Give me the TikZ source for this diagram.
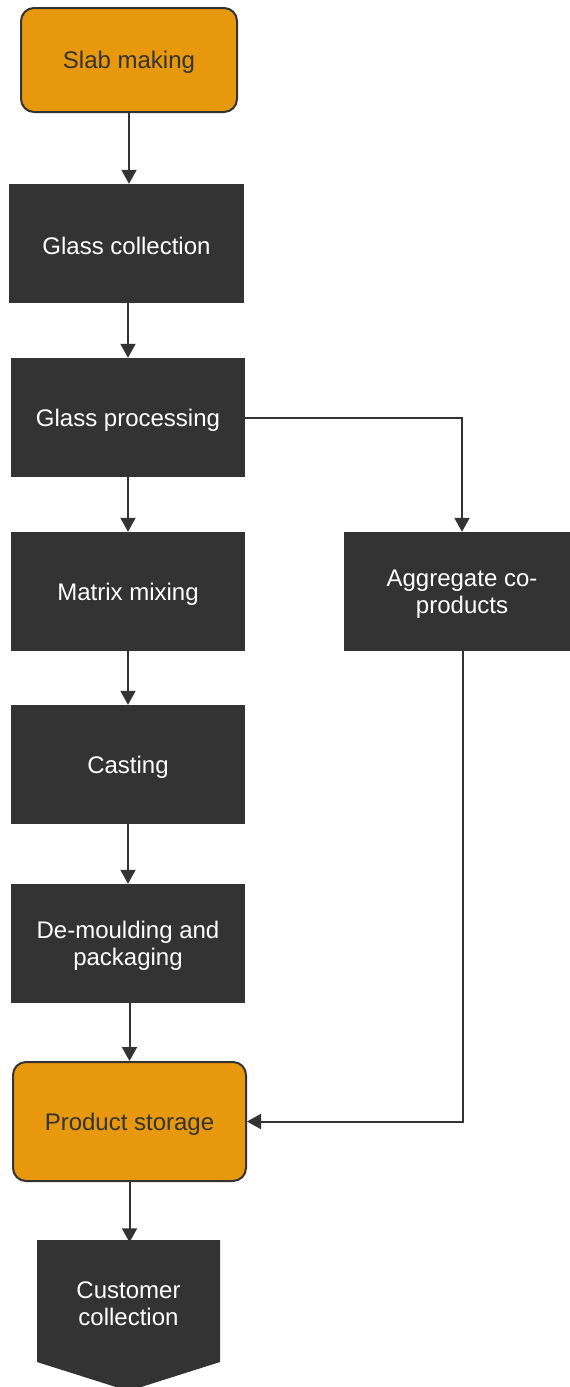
\documentclass[tikz,border=0pt]{standalone}
\usepackage{fontspec}
\setmainfont{Liberation Sans}
\usetikzlibrary{arrows.meta}
\definecolor{darkbox}{HTML}{333333}
\definecolor{orangebox}{HTML}{E8980C}
\definecolor{inkline}{HTML}{333333}
\tikzset{
  every node/.style={font=\fontsize{24}{27}\selectfont, align=center, inner sep=0pt},
  stepbox/.style={fill=darkbox, minimum width=234pt, minimum height=119pt,
                  label={[text=white, yshift=-2.5pt]center:#1}},
  endbox/.style={fill=orangebox, draw=inkline, line width=2pt, rounded corners=13pt,
                 minimum height=119pt, label={[text=darkbox, yshift=-2.5pt]center:#1}},
  flow/.style={draw=inkline, line width=2pt, -{Triangle[width=15pt,length=14pt]}}
}
\begin{document}
\begin{tikzpicture}[x=1pt,y=-1pt]
  \useasboundingbox (0,0) rectangle (570,1387);
  \clip (0,0) rectangle (570,1387);

  % process steps
  \node[endbox={Slab making}, minimum width=216pt, minimum height=104pt] (slab) at (129,60) {};
  \node[stepbox={Glass collection}, minimum width=235pt] (gcoll) at (126.5,243.5) {};
  \node[stepbox={Glass processing}] (gproc) at (128,417.5) {};
  \node[stepbox={Matrix mixing}] (matrix) at (128,591.5) {};
  \node[stepbox={Aggregate co-\\products}, minimum width=236pt] (agg) at (462,591.5) {};
  \node[stepbox={Casting}] (cast) at (128,764.5) {};
  \node[stepbox={De-moulding and\\packaging}] (demould) at (128,943.5) {};
  \node[endbox={Product storage}, minimum width=233pt] (store) at (129.5,1121.5) {};

  % off-page connector for customer collection
  \fill[darkbox] (37,1240) -- (220,1240) -- (220,1362) -- (128.5,1391) -- (37,1362) -- cycle;
  \node[text=white, minimum width=183pt, minimum height=122pt] (cust) at (128.5,1303.5)
       {Customer\\collection};

  % connectors
  \coordinate (trunk) at (128,0);
  \coordinate (rejoin) at (463,1121.5);
  \draw[flow] (slab.south) -- (slab.south |- gcoll.north);
  \draw[flow] (trunk |- gcoll.south) -- (trunk |- gproc.north);
  \draw[flow] (gproc.south) -- (matrix.north);
  \draw[flow] (gproc.east) -| (agg.north);
  \draw[flow] (matrix.south) -- (cast.north);
  \draw[flow] (cast.south) -- (demould.north);
  \draw[flow] (store.north |- demould.south) -- (store.north);
  \draw[flow] (rejoin |- agg.south) -- (rejoin) -- (store.east);
  \draw[flow] (store.south) -- (store.south |- cust.north);
\end{tikzpicture}
\end{document}
